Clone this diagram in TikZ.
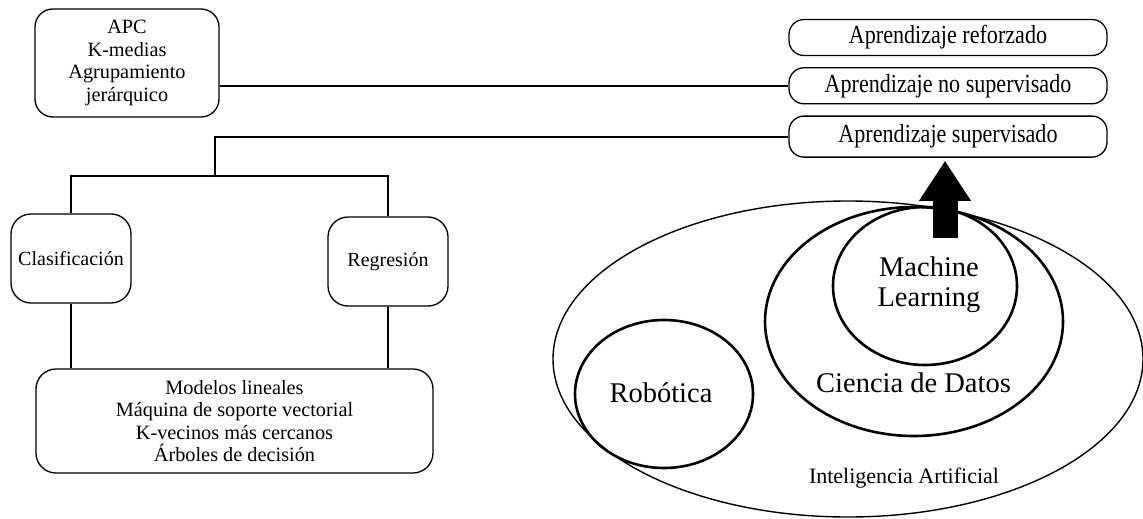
\documentclass[tikz,border=0pt]{standalone}
\usepackage{fontspec}
\setmainfont{Liberation Serif}
\newfontfamily\narrowfont[FakeStretch=0.85]{Liberation Serif}
\usetikzlibrary{positioning,shapes.geometric,arrows.meta}

\begin{document}
\begin{tikzpicture}[x=1pt,y=-1pt,node distance=11pt and 11pt]

\tikzset{box/.style={draw,line width=1.3pt,rounded corners=18pt,align=center,inner sep=2pt},
typebox/.style={box,rounded corners=15pt,minimum width=318pt,minimum height=36pt,font=\narrowfont\fontsize{26}{28}\selectfont},
taskbox/.style={box,rounded corners=20pt,minimum width=120pt,minimum height=89pt,font=\fontsize{20}{22}\selectfont},
algtext/.style={font=\fontsize{20.3}{22.5}\selectfont},
link/.style={line width=2pt},
branch/.style={line width=2.6pt},
field/.style={draw,ellipse,line width=2.6pt,inner sep=0pt},
fieldlabel/.style={font=\fontsize{28.5}{30}\selectfont,align=center}}

\useasboundingbox (0,0) rectangle (1143,519);

% Learning types
\node (reforzado) [typebox] at (948,37.5) {Aprendizaje reforzado};
\node (nosup) [typebox,below=of reforzado] {Aprendizaje no supervisado};
\node (sup) [typebox,below=of nosup,minimum height=41pt] {Aprendizaje supervisado};

% Unsupervised methods
\node (apc) [box,algtext,minimum width=184pt,minimum height=108pt] at (127,63) {APC\\K-medias\\Agrupamiento\\jerárquico};

% Supervised tasks and methods
\node (clas) [taskbox] at (71,258.5) {Clasificación};
\node (reg) [taskbox] at (388,261.5) {Regresión};
\node (modelos) [box,algtext,rounded corners=20pt,minimum width=397pt,minimum height=104pt] at (234.5,421) {Modelos lineales\\Máquina de soporte vectorial\\K-vecinos más cercanos\\Árboles de decisión};

%% Edges
\coordinate (split) at (215,176);
\draw[link] (apc.east |- nosup.west) -- (nosup.west);
\draw[link] (sup.west) -| (split);
\draw[branch] (clas.north) |- (split) -| (reg.north);
\foreach \u in {clas, reg}
	\draw[branch] (\u.south) -- (\u.south |- modelos.north);

% Fields
\node (ia) [field,line width=1.4pt,minimum width=590pt,minimum height=316pt] at (848,359) {};
\node (cdd) [field,minimum width=298pt,minimum height=229pt] at (914,321.5) {};
\node (ml) [field,minimum width=184pt,minimum height=158pt] at (925,286) {};
\node (robotica) [field,minimum width=178pt,minimum height=148pt] at (664,394) {};

\node (mltext) [fieldlabel] at (929,285) {Machine\\Learning};
\node (cddtext) [fieldlabel] at (913.5,383) {Ciencia de Datos};
\node (robtext) [fieldlabel] at (661,393) {Robótica};
\node (iatext) [font=\fontsize{22}{24}\selectfont] at (904,478) {Inteligencia Artificial};

% Arrow up to supervised learning
\coordinate (mlout) at (945,238);
\draw[-{Triangle[width=49pt,length=40pt]},line width=25pt,shorten >=3pt] (mlout) -- (mlout |- sup.south);
\end{tikzpicture}
\end{document}
